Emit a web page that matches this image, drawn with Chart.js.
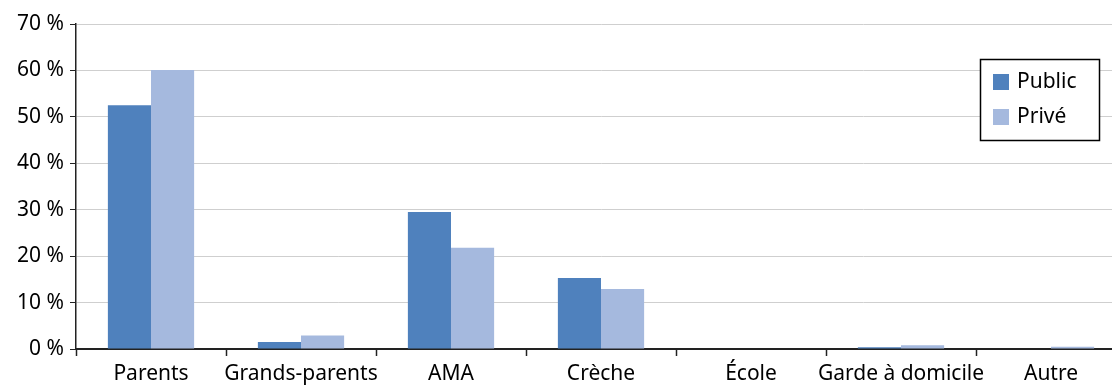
<!DOCTYPE html>
<html lang="fr">
<head>
<meta charset="utf-8">
<script src="https://cdn.jsdelivr.net/npm/chart.js@4/dist/chart.umd.min.js"></script>
<style>
    html, body { margin: 0; padding: 0; background: #fff; overflow: hidden; }
    #wrap { width: 1130px; height: 387px; position: relative; }
</style>
</head>
<body>
<div id="wrap"><canvas id="chart"></canvas></div>
<script>
// données du graphique
const categories = ['Parents', 'Grands-parents', 'AMA', 'Crèche', 'École', 'Garde à domicile', 'Autre'];
const publicValues = [52.5, 1.5, 29.5, 15.3, 0, 0.4, 0.1];
const priveValues = [60.1, 2.9, 21.8, 12.9, 0, 0.8, 0.5];
const seriesNames = ['Public', 'Privé'];
const yTicks = [0, 10, 20, 30, 40, 50, 60, 70];

const FONT = '"Noto Sans", "Open Sans", sans-serif';
const COLORS = ['#4f81bd', '#a5b9de'];

// légende encadrée dans la zone du graphique
const boxLegend = {
    id: 'boxLegend',
    afterDraw(chart) {
        const ctx = chart.ctx;
        const area = chart.chartArea;
        const x = area.right - 146;
        const y = area.top + 35;
        ctx.save();
        ctx.fillStyle = '#fff';
        ctx.fillRect(x, y, 119, 81);
        ctx.strokeStyle = '#000';
        ctx.lineWidth = 1.5;
        ctx.strokeRect(x + 0.5, y + 0.5, 119, 81);
        ctx.font = '21px ' + FONT;
        ctx.textBaseline = 'middle';
        chart.data.datasets.forEach((ds, i) => {
            const cy = y + 23 + i * 35;
            ctx.fillStyle = ds.backgroundColor;
            ctx.fillRect(x + 13, cy - 8, 16, 16);
            ctx.fillStyle = '#000';
            ctx.fillText(ds.label, x + 37, cy);
        });
        ctx.restore();
    }
};

new Chart(document.getElementById('chart'), {
    type: 'bar',
    data: {
        labels: categories,
        datasets: [
            { label: seriesNames[0], data: publicValues, backgroundColor: COLORS[0] },
            { label: seriesNames[1], data: priveValues, backgroundColor: COLORS[1] }
        ]
    },
    options: {
        responsive: true,
        maintainAspectRatio: false,
        animation: false,
        datasets: {
            bar: { barPercentage: 1, categoryPercentage: 0.575 }
        },
        layout: { padding: { top: 24, left: 0, right: 4, bottom: 0 } },
        plugins: {
            legend: { display: false },
            tooltip: { enabled: false }
        },
        scales: {
            x: {
                grid: {
                    display: true,
                    drawOnChartArea: false,
                    drawTicks: true,
                    tickLength: 7,
                    tickColor: '#222',
                    tickWidth: 1.5
                },
                border: { display: true, color: '#222', width: 2 },
                ticks: {
                    color: '#000',
                    font: { family: FONT, size: 21 },
                    padding: 5,
                    maxRotation: 0,
                    autoSkip: false
                },
                afterFit(scale) { scale.height = 38; }
            },
            y: {
                min: 0,
                max: 70,
                afterBuildTicks(scale) {
                    scale.ticks = yTicks.map(v => ({ value: v }));
                },
                grid: {
                    color: '#cfcfcf',
                    lineWidth: 1,
                    drawTicks: true,
                    tickLength: 6,
                    tickColor: '#222'
                },
                border: { display: true, color: '#222', width: 1.5 },
                ticks: {
                    color: '#000',
                    font: { family: FONT, size: 21 },
                    padding: 6,
                    callback: v => v + ' %'
                },
                afterFit(scale) { scale.width = 76; }
            }
        }
    },
    plugins: [boxLegend]
});
</script>
</body>
</html>
